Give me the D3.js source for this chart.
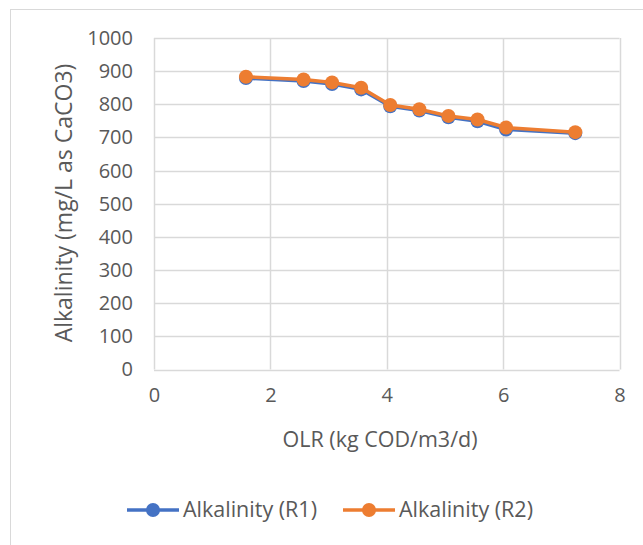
<!DOCTYPE html>
<html>
<head>
<meta charset="utf-8">
<script src="https://cdn.jsdelivr.net/npm/d3@7"></script>
<style>
  body { margin: 0; background: #fff; }
  text { font-family: "Open Sans", sans-serif; fill: #595959; }
</style>
</head>
<body>
<script>
// data
var olr = [1.58, 2.57, 3.06, 3.56, 4.06, 4.56, 5.06, 5.56, 6.05, 7.24];
var alkR1 = [879, 870, 861, 845, 794, 781, 761, 749, 724, 713];
var alkR2 = [883, 875, 866, 850, 798, 785, 765, 754, 730, 716];
var seriesNames = ['Alkalinity (R1)', 'Alkalinity (R2)'];
var colors = ['#4472c4', '#ed7d31'];
var xTicks = [0, 2, 4, 6, 8];
var yTicks = [0, 100, 200, 300, 400, 500, 600, 700, 800, 900, 1000];

var width = 643, height = 545;
var margins = { left: 154, top: 38, right: 24, bottom: 176 };

var svg = d3.select('body').append('svg')
            .attr('width', width)
            .attr('height', height);

// chart frame
svg.append('rect')
   .attr('x', 10.5).attr('y', 9.5)
   .attr('width', width).attr('height', height)
   .attr('fill', 'none')
   .attr('stroke', '#d9d9d9');

var xScale = d3.scaleLinear().domain([0, 8]).range([margins.left, width - margins.right + 0.5]);
var yScale = d3.scaleLinear().domain([0, 1000]).range([height - margins.bottom + 0.5, margins.top]);

var grid = svg.append('g').classed('grid', true);
grid.selectAll('line.h')
    .data(yTicks)
    .enter().append('line')
    .attr('x1', xScale(0)).attr('x2', xScale(8))
    .attr('y1', function(d){ return Math.round(yScale(d)) + 0.5; })
    .attr('y2', function(d){ return Math.round(yScale(d)) + 0.5; })
    .attr('stroke', '#d9d9d9').attr('stroke-width', 1.5);
grid.selectAll('line.v')
    .data(xTicks)
    .enter().append('line')
    .attr('y1', yScale(0)).attr('y2', yScale(1000))
    .attr('x1', function(d){ return Math.round(xScale(d)) + 0.5; })
    .attr('x2', function(d){ return Math.round(xScale(d)) + 0.5; })
    .attr('stroke', '#d9d9d9').attr('stroke-width', 1.5);

// axes with d3 but no domain/tick lines, Excel style
var xAxis = svg.append('g')
   .attr('transform', 'translate(0,' + yScale(0) + ')')
   .call(d3.axisBottom(xScale).tickValues(xTicks).tickFormat(d3.format('d')).tickSize(0).tickPadding(18));
var yAxis = svg.append('g')
   .attr('transform', 'translate(' + xScale(0) + ',0)')
   .call(d3.axisLeft(yScale).tickValues(yTicks).tickFormat(d3.format('d')).tickSize(0).tickPadding(21));
[xAxis, yAxis].forEach(function(ax){
  ax.select('.domain').remove();
  ax.selectAll('text').attr('font-size', 20).attr('fill', '#595959')
    .style('font-family', '"Open Sans", sans-serif');
});

svg.append('text')
   .attr('x', 380).attr('y', 447)
   .attr('text-anchor', 'middle')
   .attr('font-size', 21.5)
   .text('OLR (kg COD/m3/d)');

svg.append('text')
   .attr('transform', 'translate(72,203) rotate(-90)')
   .attr('text-anchor', 'middle')
   .attr('font-size', 23)
   .text('Alkalinity (mg/L as CaCO3)');

var line = d3.line()
             .x(function(d){ return xScale(d[0]); })
             .y(function(d){ return yScale(d[1]); });

[alkR1, alkR2].forEach(function(vals, si){
  var pts = olr.map(function(x, i){ return [x, vals[i]]; });
  var g = svg.append('g').classed('series', true);
  g.append('path')
   .attr('d', line(pts))
   .attr('fill', 'none')
   .attr('stroke', colors[si])
   .attr('stroke-width', 3.5)
   .attr('stroke-linejoin', 'round');
  g.selectAll('circle')
   .data(pts)
   .enter().append('circle')
   .attr('cx', function(d){ return xScale(d[0]); })
   .attr('cy', function(d){ return yScale(d[1]); })
   .attr('r', 7)
   .attr('fill', colors[si]);
});

// legend
var legendX = [127, 343];
var legend = svg.append('g').classed('legend', true);
seriesNames.forEach(function(name, i){
  var lg = legend.append('g').attr('transform', 'translate(' + legendX[i] + ',510)');
  lg.append('line').attr('x1', 0).attr('x2', 52).attr('y1', 0).attr('y2', 0)
    .attr('stroke', colors[i]).attr('stroke-width', 3.5);
  lg.append('circle').attr('cx', 26).attr('cy', 0).attr('r', 7).attr('fill', colors[i]);
  lg.append('text').attr('x', 56).attr('y', 7).attr('font-size', 21.5).text(name);
});
</script>
</body>
</html>
